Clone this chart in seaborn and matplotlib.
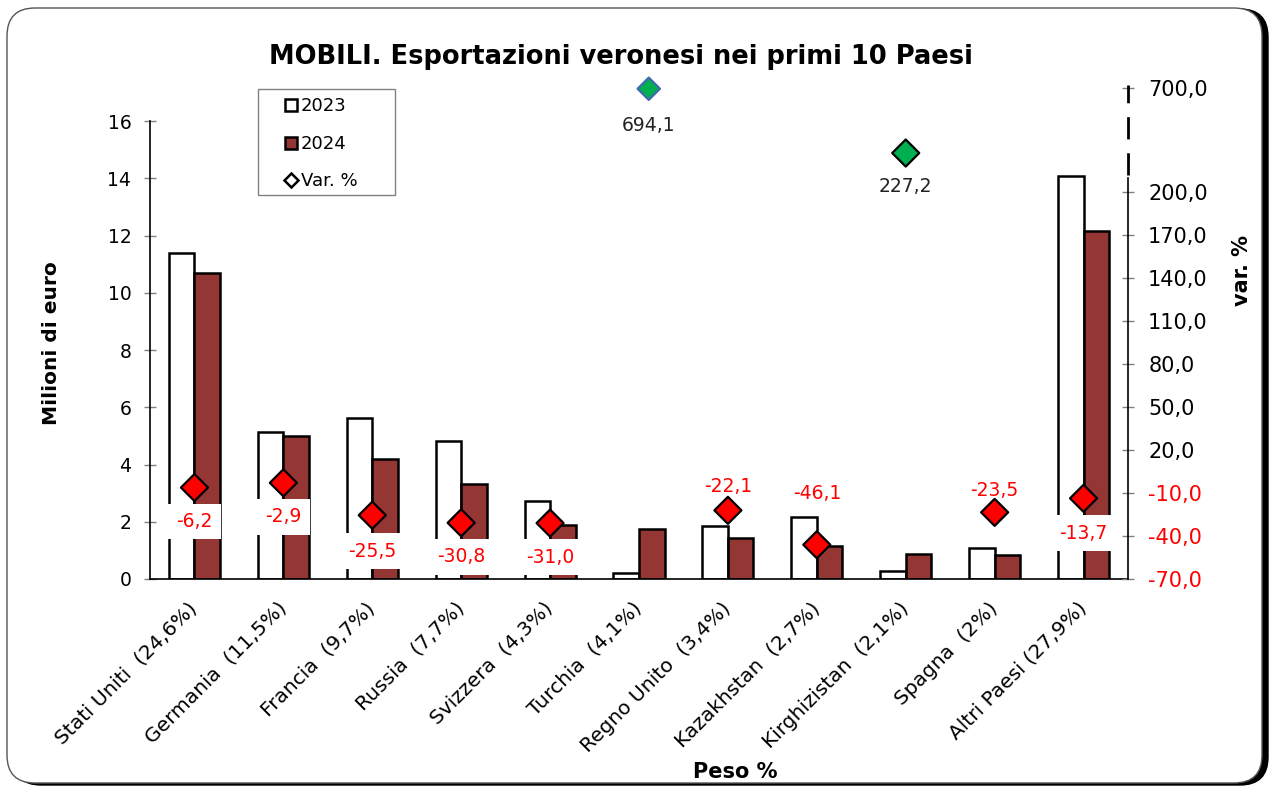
import numpy as np
import pandas as pd
import matplotlib
matplotlib.use("Agg")
import matplotlib.pyplot as plt
from matplotlib.lines import Line2D
from matplotlib.patches import FancyBboxPatch, Rectangle
import seaborn as sns

# ---- data ----
paesi = ["Stati Uniti  (24,6%)", "Germania  (11,5%)", "Francia  (9,7%)", "Russia  (7,7%)",
         "Svizzera  (4,3%)", "Turchia  (4,1%)", "Regno Unito  (3,4%)", "Kazakhstan  (2,7%)",
         "Kirghizistan  (2,1%)", "Spagna  (2%)", "Altri Paesi (27,9%)"]
exp_2023 = [11.39, 5.14, 5.62, 4.82, 2.72, 0.22, 1.85, 2.17, 0.27, 1.10, 14.08]
exp_2024 = [10.69, 5.00, 4.18, 3.33, 1.87, 1.75, 1.44, 1.17, 0.88, 0.84, 12.16]
var_pct = [-6.2, -2.9, -25.5, -30.8, -31.0, 694.1, -22.1, -46.1, 227.2, -23.5, -13.7]
right_ticks = [-70, -40, -10, 20, 50, 80, 110, 140, 170, 200, 700]

# label offsets (pixels) for the var. % labels, and small marker tweaks
label_dy = [-34, -34, -36, -34, -34, -37, 24, 51, -33, 22, -35]
marker_dx = [0, 0, 0, 0, 0, 0.11, 0, 0, 0, 0, 0]
marker_s = [190, 190, 190, 190, 190, 130, 190, 190, 190, 190, 190]

sns.set_theme(style="white")
plt.rcParams["font.family"] = ["DejaVu Sans"]
plt.rcParams["text.color"] = "black"
plt.rcParams["axes.labelcolor"] = "black"
plt.rcParams["xtick.color"] = "black"
plt.rcParams["ytick.color"] = "black"

df = pd.DataFrame({
    "paese": paesi * 2,
    "anno": ["2023"] * len(paesi) + ["2024"] * len(paesi),
    "valore": exp_2023 + exp_2024,
})

fig = plt.figure(figsize=(12.73, 7.89), dpi=100)
ax = fig.add_axes([150 / 1273, 210 / 789, 978 / 1273, 494 / 789])
ax.set_facecolor("none")

sns.barplot(data=df, x="paese", y="valore", hue="anno", hue_order=["2023", "2024"],
            palette={"2023": "white", "2024": "#943634"}, saturation=1, width=0.574,
            edgecolor="black", linewidth=1.8, legend=False, ax=ax, zorder=2)

ax.set_xlim(-0.5, len(paesi) - 0.5)
ax.set_ylim(0, 17.26)
ax.set_yticks(np.arange(0, 17, 2))
ax.spines["left"].set_bounds(0, 16)
for s in ["top", "right"]:
    ax.spines[s].set_visible(False)
for s in ["left", "bottom"]:
    ax.spines[s].set_color("black")
    ax.spines[s].set_linewidth(1.2)

ax.set_xticks(np.arange(len(paesi)))
ax.set_xticklabels(paesi, rotation=45, ha="right", va="center", rotation_mode="anchor")
ax.set_xticks(np.arange(-0.5, len(paesi)), minor=True)
ax.tick_params(axis="x", which="major", length=0, pad=19, labelsize=14.5)
ax.tick_params(axis="x", which="minor", direction="inout", length=9, color="gray", width=1)
ax.tick_params(axis="y", direction="inout", length=9, color="gray", width=1, pad=9,
               labelsize=13.5, left=True)
ax.set_ylabel("Milioni di euro", fontsize=14.5, fontweight="bold")
ax.yaxis.set_label_coords(-(150 - 61) / 978, (579 - 343) / 494)
ax.set_xlabel("Peso %", fontsize=15, fontweight="bold")
ax.xaxis.set_label_coords((735 - 150) / 978, -(762 - 579) / 494)

# ---- right axis with compressed upper part ----
ax2 = ax.twinx()
ax2.set_facecolor("none")
k = 0.0906


def fwd(v):
    v = np.asarray(v, dtype=float)
    return np.where(v <= 230, v, 230 + (v - 230) * k)


def inv(v):
    v = np.asarray(v, dtype=float)
    return np.where(v <= 230, v, 230 + (v - 230) / k)


ax2.set_yscale("function", functions=(fwd, inv))
ax2.set_ylim(-70, 723)
ax2.set_yticks(right_ticks)
ax2.set_yticklabels([f"{t:.1f}".replace(".", ",") for t in right_ticks])
for lab, t in zip(ax2.get_yticklabels(), right_ticks):
    lab.set_color("red" if t < 0 else "black")
ax2.tick_params(axis="y", direction="inout", length=9, color="gray", width=1, pad=10,
                labelsize=15, right=True)
for s in ["top", "left", "bottom"]:
    ax2.spines[s].set_visible(False)
ax2.spines["right"].set_bounds(-70, 210)
ax2.spines["right"].set_color("black")
ax2.spines["right"].set_linewidth(1.2)
ax2.plot([1, 1], [212, 723], transform=ax2.get_yaxis_transform(), color="black",
         lw=2, linestyle=(0, (8, 5)), clip_on=False)
ax2.set_ylabel("var. %", fontsize=15, fontweight="bold")
ax2.yaxis.set_label_coords((1232 - 150) / 978, (579 - 270) / 494)

x = np.arange(len(paesi)) + np.array(marker_dx)
face = ["#FF0000" if v < 0 else "#00B050" for v in var_pct]
edge = ["black"] * len(var_pct)
edge[5] = "#3F6AAE"
ax2.scatter(x, var_pct, marker="D", s=marker_s, c=face, edgecolors=edge, linewidths=1.6,
            zorder=5, clip_on=False)

for xi, v, dy in zip(x, var_pct, label_dy):
    txt = f"{v:.1f}".replace(".", ",")
    col = "red" if v < 0 else "#222222"
    ax2.annotate(txt, (xi, v), xytext=(0, dy), textcoords="offset pixels",
                 ha="center", va="center", fontsize=13.5, color=col, zorder=4,
                 bbox=dict(boxstyle="square,pad=0.45", fc="white", ec="none"))

# ---- legend (frame drawn separately to get the wide box) ----
handles = [
    Line2D([], [], marker="s", ls="none", mfc="white", mec="black", mew=1.8, ms=9),
    Line2D([], [], marker="s", ls="none", mfc="#943634", mec="black", mew=1.8, ms=9),
    Line2D([], [], marker="D", ls="none", mfc="white", mec="black", mew=1.8, ms=7),
]
fig.add_artist(Rectangle((258, 789 - 195), 137, 106, transform=None, fc="white",
                         ec="gray", lw=1, zorder=1))
leg = fig.legend(handles, ["2023", "2024", "Var. %"], loc="upper left",
                 bbox_to_anchor=(278 / 1273, 1 - 92 / 789), fontsize=13,
                 frameon=False, handlelength=0.8, handletextpad=0.15,
                 labelspacing=1.08, borderpad=0.3, borderaxespad=0)
leg.set_zorder(2)

fig.text(621 / 1273, 1 - 57 / 789, "MOBILI. Esportazioni veronesi nei primi 10 Paesi",
         ha="center", va="center", fontsize=18.5, fontweight="bold")

# ---- rounded frame with shadow ----
shadow = FancyBboxPatch((13, 4), 1255, 776, boxstyle="round,pad=0,rounding_size=28",
                        transform=None, fc="black", ec="black", zorder=-20)
frame = FancyBboxPatch((7, 6), 1255, 775, boxstyle="round,pad=0,rounding_size=28",
                       transform=None, fc="white", ec="#555555", lw=1, zorder=-10)
fig.add_artist(shadow)
fig.add_artist(frame)

fig.savefig("out.png", dpi=100)
